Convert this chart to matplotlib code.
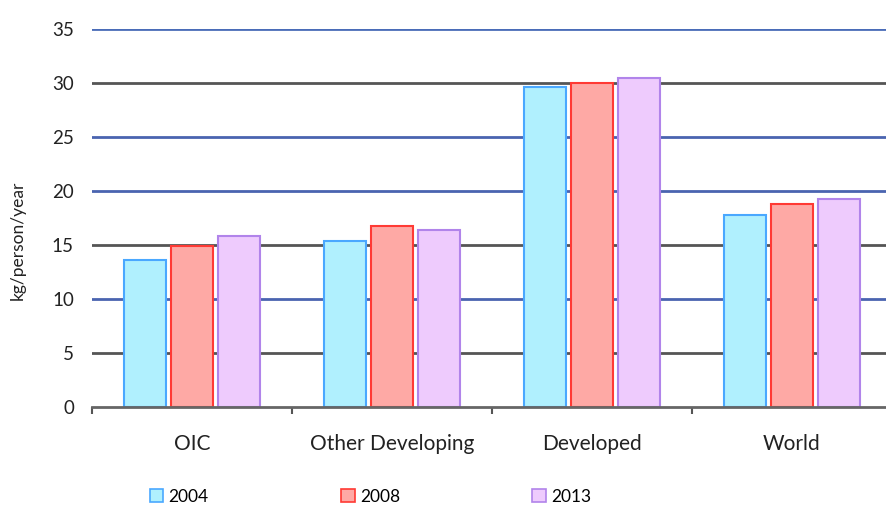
import numpy as np
import matplotlib
matplotlib.use('Agg')
from matplotlib import pyplot as plt
from matplotlib.patches import Patch

# fish consumption per capita by region
regions = ['OIC', 'Other Developing', 'Developed', 'World']
years = ['2004', '2008', '2013']
vals_2004 = [13.6, 15.4, 29.6, 17.8]
vals_2008 = [14.9, 16.8, 30.0, 18.8]
vals_2013 = [15.8, 16.4, 30.5, 19.3]

fills = ['#b0f0fe', '#fea9a5', '#eecbfd']
edges = ['#4aa8ff', '#ff3a34', '#b184ea']

plt.rcParams['font.family'] = ['Lato', 'DejaVu Sans']

fig = plt.figure(figsize=(8.86, 5.07), dpi=100)
ax = fig.add_axes([0.1038, 0.197, 0.8962, 0.746])

x = np.arange(len(regions))
width = 0.21
step = 0.235

# horizontal gridlines, coloured the way the original sheet had them
grid_cols = {5: '#555555', 10: '#4a64b0', 15: '#555555', 20: '#4a64b0',
             25: '#4a64b0', 30: '#555555', 35: '#4a6cb8'}
for yv, c in grid_cols.items():
    ax.axhline(yv, color=c, lw=2, zorder=0)

for i, (vals, fc, ec) in enumerate(zip([vals_2004, vals_2008, vals_2013], fills, edges)):
    ax.bar(x + (i - 1) * step, vals, width, color=fc, edgecolor=ec, lw=1.5, zorder=2)

ax.set_xlim(-0.5, 3.47)
ax.set_ylim(0, 35)
ax.set_yticks(range(0, 36, 5))
ax.tick_params(axis='y', length=0, pad=13, labelsize=13.5, labelcolor='#222222')

# category labels sit between tick marks drawn at the group boundaries
ax.set_xticks([-0.5, 0.5, 1.5, 2.5])
ax.set_xticklabels([])
ax.set_xticks(x, minor=True)
ax.set_xticklabels(regions, minor=True, fontsize=15, color='#222222')
ax.tick_params(axis='x', which='major', length=5, width=1.5, color='#555555', direction='out')
ax.tick_params(axis='x', which='minor', length=0, pad=19)

for s in ['top', 'right', 'left']:
    ax.spines[s].set_visible(False)
ax.spines['bottom'].set_color('#666666')
ax.spines['bottom'].set_linewidth(2)

ax.set_ylabel('kg/person/year', fontsize=12.5, color='#222222')
ax.yaxis.set_label_coords(-0.083, 0.44)

handles = [Patch(facecolor=fc, edgecolor=ec, lw=1.2) for fc, ec in zip(fills, edges)]
fig.legend(handles, years, loc='center', bbox_to_anchor=(0.418, 0.02), ncol=3,
           frameon=False, fontsize=12.5, columnspacing=7.6, handlelength=0.8,
           handleheight=0.8, handletextpad=0.3)

fig.savefig('out.png', dpi=100)
